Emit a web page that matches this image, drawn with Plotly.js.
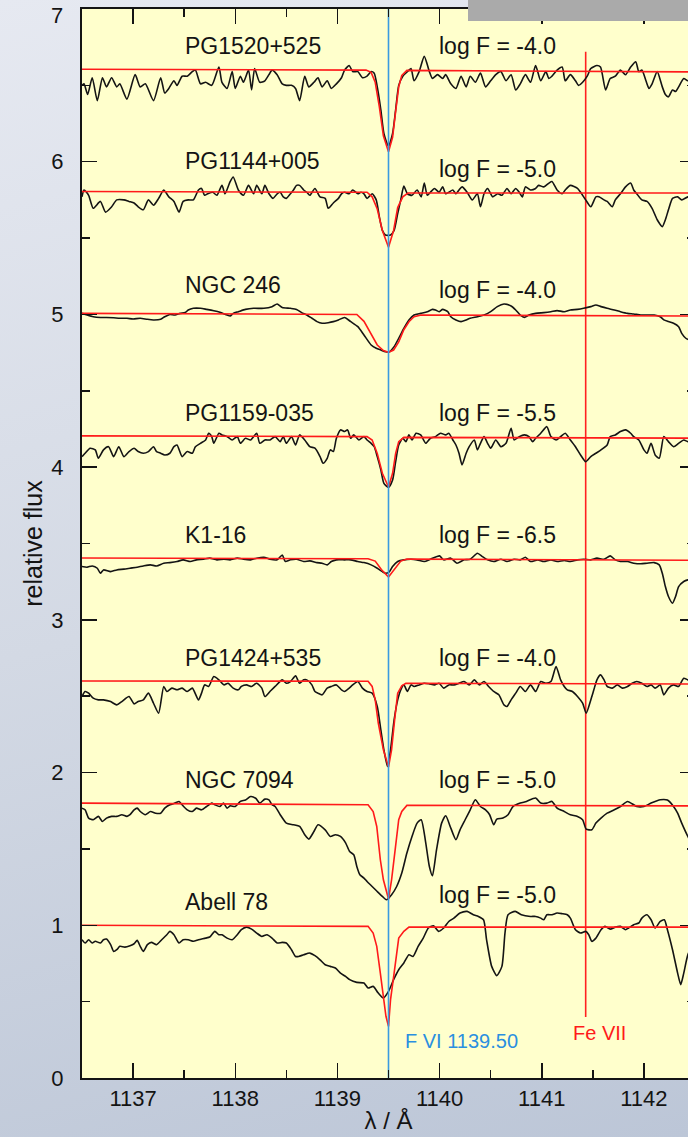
<!DOCTYPE html>
<html><head><meta charset="utf-8">
<script src="https://cdn.plot.ly/plotly-3.0.1.min.js"></script>
<style>
html,body{margin:0;padding:0;overflow:hidden;width:688px;height:1137px;}
body{position:relative;background:linear-gradient(165deg,#e6e9f1 0%,#d3d9e4 50%,#bcc6d7 100%);}
#chart{position:absolute;left:0;top:-20px;width:700px;height:1157px;}
</style></head><body><div id="chart"></div>
<script>
// ---------- observed spectra (wavelength in Å, relative flux incl. offset) ----------
const wlPG1520 = [1136.50,1136.52,1136.555,1136.60,1136.65,1136.70,1136.74,1136.79,1136.84,1136.87,1136.94,1137.02,1137.07,1137.12,1137.20,1137.27,1137.31,1137.35,1137.40,1137.43,1137.48,1137.53,1137.58,1137.61,1137.66,1137.71,1137.77,1137.84,1137.87,1137.92,1137.97,1138.00,1138.05,1138.08,1138.13,1138.16,1138.19,1138.24,1138.29,1138.33,1138.36,1138.41,1138.46,1138.50,1138.55,1138.59,1138.63,1138.68,1138.72,1138.77,1138.81,1138.85,1138.90,1138.94,1138.99,1139.04,1139.07,1139.115,1139.15,1139.20,1139.245,1139.29,1139.33,1139.36,1139.39,1139.425,1139.455,1139.50,1139.54,1139.57,1139.60,1139.64,1139.685,1139.72,1139.75,1139.80,1139.85,1139.90,1139.93,1139.98,1140.03,1140.06,1140.11,1140.16,1140.21,1140.26,1140.30,1140.35,1140.40,1140.45,1140.50,1140.55,1140.60,1140.65,1140.70,1140.745,1140.79,1140.84,1140.89,1140.94,1140.99,1141.04,1141.07,1141.10,1141.15,1141.20,1141.23,1141.28,1141.33,1141.36,1141.40,1141.445,1141.48,1141.54,1141.575,1141.625,1141.67,1141.72,1141.77,1141.82,1141.87,1141.92,1141.95,1141.98,1142.02,1142.05,1142.08,1142.13,1142.18,1142.21,1142.24,1142.28,1142.31,1142.34,1142.39,1142.43,1142.50];
const fxPG1520 = [6.50,6.51,6.44,6.55,6.40,6.55,6.49,6.55,6.49,6.51,6.41,6.57,6.49,6.51,6.40,6.55,6.45,6.48,6.53,6.50,6.56,6.56,6.59,6.60,6.51,6.52,6.50,6.62,6.52,6.48,6.59,6.48,6.56,6.52,6.60,6.47,6.61,6.52,6.53,6.57,6.60,6.57,6.51,6.50,6.50,6.48,6.40,6.56,6.49,6.52,6.55,6.49,6.53,6.48,6.51,6.55,6.60,6.63,6.59,6.59,6.55,6.56,6.59,6.58,6.49,6.34,6.185,6.10,6.185,6.34,6.50,6.56,6.59,6.61,6.53,6.59,6.69,6.59,6.545,6.57,6.545,6.57,6.51,6.48,6.56,6.49,6.56,6.52,6.58,6.49,6.53,6.57,6.59,6.53,6.57,6.47,6.51,6.57,6.52,6.63,6.53,6.59,6.545,6.56,6.60,6.62,6.53,6.57,6.53,6.50,6.52,6.56,6.61,6.63,6.62,6.47,6.545,6.56,6.60,6.57,6.62,6.655,6.59,6.60,6.53,6.48,6.51,6.59,6.49,6.44,6.425,6.47,6.46,6.49,6.545,6.53,6.55];

const wlPG1144 = [1136.50,1136.52,1136.565,1136.61,1136.68,1136.73,1136.79,1136.84,1136.91,1136.96,1137.01,1137.05,1137.10,1137.15,1137.20,1137.25,1137.30,1137.35,1137.40,1137.45,1137.49,1137.54,1137.59,1137.64,1137.67,1137.70,1137.73,1137.78,1137.82,1137.87,1137.90,1137.95,1137.98,1138.03,1138.08,1138.13,1138.18,1138.21,1138.26,1138.29,1138.33,1138.37,1138.41,1138.44,1138.47,1138.50,1138.54,1138.57,1138.60,1138.63,1138.67,1138.70,1138.73,1138.78,1138.83,1138.88,1138.91,1138.96,1139.01,1139.04,1139.07,1139.115,1139.15,1139.20,1139.23,1139.26,1139.29,1139.34,1139.38,1139.41,1139.44,1139.47,1139.52,1139.555,1139.59,1139.62,1139.65,1139.685,1139.73,1139.78,1139.82,1139.85,1139.88,1139.91,1139.95,1139.995,1140.03,1140.06,1140.09,1140.13,1140.16,1140.19,1140.22,1140.27,1140.32,1140.37,1140.40,1140.435,1140.47,1140.52,1140.57,1140.61,1140.66,1140.70,1140.745,1140.78,1140.81,1140.84,1140.89,1140.94,1140.97,1141.02,1141.07,1141.10,1141.15,1141.20,1141.23,1141.28,1141.35,1141.38,1141.43,1141.48,1141.53,1141.56,1141.61,1141.64,1141.69,1141.72,1141.77,1141.82,1141.87,1141.90,1141.93,1141.98,1142.03,1142.08,1142.13,1142.18,1142.21,1142.24,1142.28,1142.33,1142.37,1142.43,1142.50];
const fxPG1144 = [5.77,5.815,5.78,5.695,5.74,5.67,5.705,5.75,5.75,5.74,5.73,5.705,5.685,5.75,5.715,5.76,5.815,5.77,5.74,5.67,5.74,5.75,5.75,5.815,5.825,5.78,5.79,5.80,5.78,5.845,5.79,5.87,5.90,5.815,5.78,5.845,5.79,5.845,5.79,5.845,5.79,5.76,5.79,5.80,5.77,5.76,5.79,5.815,5.845,5.845,5.815,5.80,5.78,5.825,5.77,5.76,5.695,5.73,5.76,5.79,5.80,5.79,5.815,5.79,5.80,5.79,5.76,5.79,5.75,5.64,5.55,5.52,5.52,5.55,5.66,5.75,5.84,5.79,5.78,5.815,5.77,5.86,5.78,5.80,5.825,5.80,5.835,5.79,5.80,5.815,5.79,5.815,5.835,5.80,5.75,5.79,5.705,5.79,5.825,5.77,5.79,5.78,5.825,5.79,5.825,5.80,5.77,5.835,5.815,5.825,5.845,5.835,5.86,5.87,5.815,5.79,5.815,5.845,5.825,5.80,5.75,5.705,5.77,5.77,5.75,5.74,5.705,5.75,5.79,5.835,5.86,5.815,5.79,5.75,5.74,5.695,5.62,5.575,5.62,5.685,5.76,5.77,5.75,5.77,5.77];

const wlNGC246 = [1136.50,1136.55,1136.61,1136.68,1136.74,1136.81,1136.87,1136.94,1137.00,1137.07,1137.14,1137.20,1137.27,1137.31,1137.36,1137.41,1137.46,1137.51,1137.54,1137.59,1137.66,1137.72,1137.79,1137.85,1137.92,1137.95,1137.98,1138.03,1138.10,1138.18,1138.28,1138.36,1138.41,1138.46,1138.54,1138.60,1138.65,1138.70,1138.75,1138.80,1138.85,1138.91,1138.96,1139.01,1139.07,1139.13,1139.20,1139.26,1139.33,1139.38,1139.425,1139.47,1139.51,1139.555,1139.60,1139.65,1139.70,1139.75,1139.815,1139.88,1139.93,1139.96,1139.995,1140.03,1140.08,1140.11,1140.16,1140.21,1140.26,1140.30,1140.37,1140.435,1140.50,1140.565,1140.63,1140.70,1140.745,1140.79,1140.83,1140.875,1140.94,1141.02,1141.09,1141.15,1141.22,1141.28,1141.35,1141.41,1141.48,1141.53,1141.58,1141.64,1141.71,1141.77,1141.84,1141.90,1141.97,1142.03,1142.10,1142.16,1142.195,1142.24,1142.29,1142.34,1142.37,1142.41,1142.43,1142.50];
const fxNGC246 = [5.007,4.996,4.985,4.98,4.98,4.978,4.975,4.975,4.97,4.975,4.968,4.964,4.968,4.985,5.0,4.996,5.007,5.012,5.029,5.04,5.04,5.033,5.024,5.014,4.996,4.99,5.007,5.018,5.033,5.04,5.04,5.051,5.068,5.046,5.04,5.033,5.012,4.996,4.975,4.953,4.942,4.946,4.953,4.964,4.98,4.953,4.92,4.865,4.80,4.778,4.767,4.756,4.756,4.789,4.844,4.909,4.964,4.996,5.007,5.018,5.033,5.029,5.018,5.033,5.018,4.985,4.964,4.953,4.964,4.975,4.985,4.996,5.018,5.051,5.068,5.055,5.029,4.996,4.981,4.996,5.007,5.012,5.018,5.025,5.018,5.029,5.033,5.04,5.051,5.062,5.051,5.04,5.029,5.018,5.007,5.003,4.996,4.996,4.996,4.985,4.964,4.953,4.942,4.92,4.876,4.844,4.837,4.83];

const wlPG1159 = [1136.50,1136.53,1136.58,1136.63,1136.66,1136.71,1136.76,1136.81,1136.86,1136.91,1136.96,1137.01,1137.05,1137.10,1137.15,1137.20,1137.23,1137.27,1137.31,1137.36,1137.40,1137.43,1137.48,1137.53,1137.58,1137.61,1137.66,1137.71,1137.74,1137.77,1137.79,1137.84,1137.87,1137.92,1137.97,1138.02,1138.05,1138.10,1138.15,1138.21,1138.24,1138.29,1138.34,1138.39,1138.44,1138.47,1138.50,1138.55,1138.59,1138.63,1138.68,1138.73,1138.78,1138.83,1138.86,1138.90,1138.93,1138.96,1138.99,1139.03,1139.07,1139.10,1139.13,1139.16,1139.21,1139.26,1139.29,1139.33,1139.36,1139.39,1139.425,1139.455,1139.50,1139.54,1139.57,1139.60,1139.64,1139.67,1139.70,1139.73,1139.77,1139.815,1139.865,1139.91,1139.96,1140.01,1140.06,1140.09,1140.13,1140.16,1140.19,1140.22,1140.26,1140.29,1140.34,1140.37,1140.40,1140.435,1140.47,1140.50,1140.55,1140.60,1140.65,1140.70,1140.73,1140.78,1140.83,1140.875,1140.91,1140.94,1140.99,1141.05,1141.09,1141.14,1141.185,1141.23,1141.28,1141.33,1141.38,1141.43,1141.48,1141.53,1141.58,1141.64,1141.67,1141.72,1141.77,1141.82,1141.87,1141.90,1141.95,1142.00,1142.03,1142.07,1142.11,1142.15,1142.195,1142.24,1142.29,1142.34,1142.39,1142.43,1142.50];
const fxPG1159 = [4.069,4.091,4.124,4.113,4.058,4.113,4.134,4.069,4.134,4.069,4.102,4.124,4.102,4.091,4.102,4.134,4.102,4.091,4.080,4.091,4.134,4.145,4.069,4.102,4.091,4.134,4.156,4.178,4.222,4.20,4.156,4.222,4.211,4.20,4.178,4.20,4.156,4.189,4.178,4.222,4.156,4.178,4.178,4.20,4.167,4.20,4.156,4.20,4.145,4.211,4.178,4.134,4.124,4.069,4.025,4.058,4.113,4.102,4.189,4.244,4.233,4.244,4.189,4.211,4.178,4.20,4.178,4.156,4.134,4.069,3.982,3.894,3.868,3.916,4.036,4.145,4.189,4.167,4.211,4.178,4.222,4.211,4.156,4.189,4.20,4.222,4.211,4.222,4.178,4.145,4.091,4.015,4.091,4.134,4.178,4.113,4.156,4.20,4.156,4.124,4.178,4.134,4.156,4.255,4.178,4.20,4.211,4.20,4.167,4.189,4.222,4.265,4.20,4.178,4.20,4.222,4.178,4.134,4.080,4.036,4.069,4.091,4.113,4.145,4.20,4.211,4.233,4.244,4.222,4.20,4.178,4.113,4.091,4.156,4.080,4.058,4.20,4.167,4.134,4.156,4.178,4.167,4.17];

const wlK116 = [1136.50,1136.55,1136.60,1136.65,1136.68,1136.71,1136.78,1136.84,1136.91,1136.97,1137.04,1137.10,1137.17,1137.23,1137.30,1137.36,1137.43,1137.49,1137.56,1137.62,1137.69,1137.75,1137.82,1137.89,1137.95,1138.02,1138.08,1138.15,1138.21,1138.28,1138.34,1138.41,1138.46,1138.49,1138.54,1138.60,1138.67,1138.73,1138.80,1138.85,1138.90,1138.94,1138.99,1139.07,1139.13,1139.20,1139.26,1139.33,1139.39,1139.44,1139.47,1139.51,1139.54,1139.59,1139.65,1139.72,1139.78,1139.85,1139.91,1140.00,1140.04,1140.11,1140.17,1140.24,1140.30,1140.37,1140.42,1140.47,1140.53,1140.60,1140.66,1140.73,1140.79,1140.84,1140.89,1140.96,1141.02,1141.09,1141.15,1141.22,1141.28,1141.35,1141.41,1141.48,1141.54,1141.61,1141.67,1141.72,1141.77,1141.84,1141.90,1141.97,1142.03,1142.10,1142.15,1142.18,1142.21,1142.24,1142.28,1142.31,1142.34,1142.39,1142.43,1142.50];
const fxK116 = [3.349,3.345,3.353,3.338,3.305,3.327,3.316,3.327,3.332,3.338,3.345,3.353,3.36,3.353,3.371,3.375,3.382,3.393,3.382,3.393,3.397,3.404,3.393,3.397,3.393,3.404,3.397,3.393,3.404,3.41,3.397,3.393,3.425,3.382,3.393,3.397,3.382,3.386,3.375,3.371,3.36,3.382,3.393,3.393,3.393,3.382,3.375,3.36,3.338,3.316,3.305,3.316,3.349,3.382,3.393,3.397,3.393,3.382,3.397,3.419,3.393,3.404,3.371,3.393,3.397,3.436,3.414,3.393,3.382,3.397,3.382,3.397,3.393,3.41,3.382,3.393,3.382,3.393,3.382,3.389,3.382,3.393,3.397,3.393,3.404,3.397,3.419,3.393,3.382,3.382,3.371,3.367,3.371,3.375,3.36,3.305,3.218,3.153,3.109,3.153,3.218,3.251,3.262,3.27];

const wlPG1424 = [1136.50,1136.53,1136.565,1136.61,1136.66,1136.71,1136.78,1136.84,1136.89,1136.96,1137.01,1137.05,1137.10,1137.15,1137.20,1137.25,1137.30,1137.33,1137.38,1137.43,1137.48,1137.53,1137.58,1137.64,1137.67,1137.70,1137.74,1137.79,1137.84,1137.89,1137.93,1137.98,1138.03,1138.06,1138.11,1138.16,1138.21,1138.26,1138.29,1138.34,1138.39,1138.46,1138.50,1138.54,1138.59,1138.63,1138.67,1138.70,1138.75,1138.78,1138.81,1138.85,1138.90,1138.94,1138.99,1139.04,1139.07,1139.115,1139.15,1139.20,1139.245,1139.29,1139.34,1139.39,1139.425,1139.455,1139.49,1139.52,1139.555,1139.59,1139.62,1139.65,1139.685,1139.72,1139.75,1139.80,1139.85,1139.90,1139.95,1139.995,1140.04,1140.09,1140.14,1140.19,1140.24,1140.29,1140.34,1140.39,1140.435,1140.48,1140.53,1140.58,1140.63,1140.66,1140.70,1140.745,1140.79,1140.84,1140.89,1140.94,1140.99,1141.04,1141.09,1141.14,1141.185,1141.22,1141.25,1141.30,1141.35,1141.40,1141.435,1141.48,1141.51,1141.54,1141.575,1141.61,1141.64,1141.69,1141.74,1141.79,1141.84,1141.885,1141.93,1141.98,1142.03,1142.07,1142.11,1142.16,1142.195,1142.24,1142.29,1142.34,1142.39,1142.43,1142.50];
const fxPG1424 = [2.498,2.531,2.52,2.487,2.476,2.476,2.465,2.443,2.465,2.498,2.45,2.465,2.476,2.52,2.454,2.389,2.564,2.531,2.553,2.542,2.553,2.531,2.553,2.476,2.52,2.574,2.564,2.629,2.607,2.574,2.585,2.553,2.542,2.564,2.574,2.564,2.585,2.553,2.498,2.531,2.564,2.607,2.585,2.596,2.633,2.585,2.607,2.607,2.574,2.531,2.52,2.509,2.553,2.564,2.574,2.542,2.531,2.553,2.574,2.596,2.553,2.531,2.52,2.433,2.28,2.149,2.04,2.149,2.345,2.476,2.542,2.574,2.531,2.574,2.564,2.574,2.585,2.581,2.574,2.585,2.553,2.574,2.574,2.585,2.596,2.574,2.607,2.574,2.596,2.564,2.531,2.509,2.443,2.433,2.476,2.52,2.564,2.531,2.574,2.531,2.596,2.585,2.596,2.695,2.607,2.564,2.542,2.531,2.498,2.454,2.389,2.476,2.542,2.607,2.64,2.607,2.564,2.553,2.574,2.553,2.564,2.585,2.596,2.585,2.564,2.574,2.553,2.574,2.509,2.553,2.574,2.564,2.618,2.607,2.60];

const wlNGC7094 = [1136.50,1136.53,1136.565,1136.61,1136.66,1136.70,1136.74,1136.79,1136.84,1136.89,1136.94,1136.97,1137.01,1137.04,1137.07,1137.12,1137.17,1137.22,1137.27,1137.31,1137.36,1137.41,1137.45,1137.48,1137.53,1137.58,1137.62,1137.67,1137.72,1137.77,1137.80,1137.85,1137.885,1137.92,1137.95,1138.00,1138.05,1138.10,1138.15,1138.20,1138.24,1138.29,1138.33,1138.36,1138.39,1138.44,1138.50,1138.57,1138.63,1138.68,1138.72,1138.77,1138.81,1138.88,1138.93,1138.98,1139.03,1139.08,1139.12,1139.16,1139.19,1139.22,1139.26,1139.29,1139.34,1139.39,1139.44,1139.48,1139.53,1139.58,1139.63,1139.68,1139.73,1139.78,1139.82,1139.86,1139.90,1139.93,1139.97,1140.02,1140.06,1140.11,1140.16,1140.20,1140.25,1140.30,1140.35,1140.40,1140.45,1140.49,1140.53,1140.56,1140.62,1140.67,1140.72,1140.79,1140.85,1140.94,1140.99,1141.05,1141.10,1141.15,1141.22,1141.28,1141.35,1141.40,1141.435,1141.49,1141.53,1141.58,1141.64,1141.71,1141.77,1141.84,1141.93,1142.00,1142.07,1142.16,1142.23,1142.29,1142.33,1142.37,1142.43,1142.50];
const fxNGC7094 = [1.767,1.756,1.702,1.691,1.713,1.68,1.702,1.713,1.713,1.724,1.713,1.724,1.756,1.767,1.745,1.724,1.745,1.734,1.734,1.767,1.789,1.80,1.811,1.789,1.756,1.745,1.767,1.756,1.778,1.80,1.789,1.778,1.80,1.767,1.782,1.778,1.811,1.821,1.843,1.832,1.80,1.826,1.821,1.789,1.778,1.724,1.669,1.658,1.647,1.593,1.564,1.614,1.658,1.625,1.582,1.593,1.582,1.54,1.483,1.462,1.385,1.331,1.309,1.287,1.254,1.221,1.189,1.167,1.20,1.254,1.342,1.473,1.582,1.669,1.691,1.560,1.385,1.324,1.494,1.669,1.717,1.636,1.560,1.625,1.691,1.756,1.822,1.778,1.756,1.724,1.658,1.695,1.702,1.724,1.778,1.80,1.811,1.833,1.80,1.80,1.811,1.767,1.745,1.724,1.713,1.691,1.63,1.625,1.669,1.702,1.734,1.756,1.778,1.811,1.778,1.778,1.80,1.822,1.82,1.778,1.734,1.669,1.582,1.50];

const wlAbell78 = [1136.50,1136.53,1136.565,1136.60,1136.63,1136.68,1136.71,1136.74,1136.78,1136.81,1136.84,1136.87,1136.92,1136.97,1137.01,1137.04,1137.07,1137.10,1137.14,1137.18,1137.23,1137.28,1137.33,1137.36,1137.40,1137.45,1137.49,1137.54,1137.59,1137.64,1137.71,1137.75,1137.80,1137.84,1137.87,1137.92,1137.97,1138.02,1138.06,1138.11,1138.16,1138.21,1138.26,1138.31,1138.36,1138.41,1138.46,1138.50,1138.55,1138.59,1138.62,1138.67,1138.73,1138.78,1138.83,1138.88,1138.93,1138.98,1139.03,1139.08,1139.12,1139.19,1139.26,1139.30,1139.35,1139.40,1139.45,1139.50,1139.55,1139.60,1139.65,1139.70,1139.74,1139.79,1139.84,1139.89,1139.94,1139.99,1140.04,1140.09,1140.14,1140.20,1140.27,1140.33,1140.38,1140.43,1140.46,1140.51,1140.56,1140.61,1140.64,1140.67,1140.74,1140.80,1140.89,1140.94,1140.99,1141.02,1141.05,1141.10,1141.15,1141.20,1141.25,1141.28,1141.33,1141.38,1141.43,1141.46,1141.49,1141.53,1141.58,1141.62,1141.67,1141.72,1141.77,1141.82,1141.85,1141.90,1141.95,1141.98,1142.03,1142.07,1142.11,1142.16,1142.20,1142.23,1142.28,1142.33,1142.36,1142.39,1142.43,1142.50];
const fxAbell78 = [0.905,0.884,0.905,0.884,0.895,0.884,0.905,0.91,0.873,0.829,0.84,0.862,0.857,0.866,0.879,0.901,0.862,0.829,0.873,0.888,0.873,0.905,0.938,0.96,0.938,0.884,0.905,0.905,0.895,0.905,0.916,0.923,0.96,0.938,0.938,0.916,0.905,0.938,0.971,0.988,0.975,0.949,0.927,0.938,0.916,0.884,0.888,0.884,0.84,0.796,0.796,0.807,0.818,0.801,0.774,0.742,0.731,0.72,0.687,0.665,0.644,0.626,0.622,0.589,0.60,0.556,0.524,0.567,0.644,0.709,0.753,0.807,0.796,0.862,0.916,0.982,0.997,0.96,0.982,1.025,1.047,1.080,1.091,1.069,1.058,1.036,0.905,0.731,0.670,0.731,0.949,1.069,1.091,1.069,1.058,1.058,1.047,1.036,1.069,1.069,1.080,1.076,1.069,1.047,0.971,0.949,0.960,0.938,0.895,0.916,0.971,0.993,0.975,0.988,0.993,0.971,0.982,1.004,1.015,1.047,1.069,1.036,0.982,1.025,1.036,0.971,0.840,0.687,0.611,0.687,0.807,0.90];

// ---------- model spectra (red) ----------
const mwPG1520 = [1136.5,1139.28,1139.33,1139.37,1139.41,1139.45,1139.50,1139.54,1139.57,1139.60,1139.63,1139.68,1142.5];
const mfPG1520 = [6.605,6.60,6.585,6.52,6.36,6.17,6.065,6.16,6.33,6.49,6.565,6.598,6.588];
const mwPG1144 = [1136.5,1139.29,1139.34,1139.39,1139.44,1139.50,1139.55,1139.59,1139.64,1139.69,1142.5];
const mfPG1144 = [5.805,5.80,5.77,5.69,5.55,5.44,5.55,5.70,5.77,5.795,5.795];
const mwNGC246 = [1136.5,1139.19,1139.26,1139.33,1139.39,1139.45,1139.50,1139.55,1139.60,1139.65,1139.70,1139.75,1139.82,1142.5];
const mfNGC246 = [5.007,5.0,4.955,4.875,4.80,4.763,4.752,4.767,4.82,4.90,4.952,4.985,4.996,4.99];
const mwPG1159 = [1136.5,1139.29,1139.34,1139.39,1139.44,1139.50,1139.54,1139.57,1139.60,1139.65,1142.5];
const mfPG1159 = [4.205,4.20,4.178,4.09,3.96,3.87,3.96,4.09,4.167,4.195,4.19];
const mwK116 = [1136.5,1139.30,1139.37,1139.43,1139.50,1139.56,1139.62,1139.68,1142.5];
const mfK116 = [3.405,3.40,3.385,3.33,3.28,3.33,3.385,3.398,3.39];
const mwPG1424 = [1136.5,1139.30,1139.34,1139.37,1139.40,1139.45,1139.50,1139.53,1139.56,1139.59,1139.63,1139.67,1142.5];
const mfPG1424 = [2.60,2.598,2.564,2.476,2.324,2.149,2.036,2.149,2.345,2.52,2.568,2.585,2.58];
const mwNGC7094 = [1136.5,1139.30,1139.35,1139.385,1139.42,1139.45,1139.50,1139.53,1139.565,1139.60,1139.63,1139.68,1142.5];
const mfNGC7094 = [1.80,1.789,1.745,1.647,1.429,1.298,1.172,1.298,1.494,1.691,1.745,1.785,1.782];
const mwAbell78 = [1136.5,1139.30,1139.35,1139.385,1139.42,1139.45,1139.475,1139.50,1139.52,1139.555,1139.59,1139.60,1139.65,1139.70,1142.5];
const mfAbell78 = [1.0,0.993,0.949,0.862,0.687,0.513,0.404,0.338,0.513,0.687,0.862,0.916,0.96,0.988,0.988];

// ---------- labels ----------
const starNames = ["PG1520+525","PG1144+005","NGC 246","PG1159-035","K1-16","PG1424+535","NGC 7094","Abell 78"];
const starLabelY = [6.757,6.005,5.196,4.352,3.553,2.748,1.949,1.151];
const logFLabels = ["log F = -4.0","log F = -5.0","log F = -4.0","log F = -5.5","log F = -6.5","log F = -4.0","log F = -5.0","log F = -5.0"];
const logFLabelY = [6.757,5.955,5.16,4.355,3.556,2.751,1.953,1.199];
const starLabelX = 1137.49;
const logFLabelX = 1139.975;

// ---------- line identifications ----------
const fviWave = 1139.50, fviFlux = [0, 7];
const feviiWave = 1141.43, feviiFlux = [0.40, 6.72];
const fviLabel = "F VI 1139.50", fviLabelPos = [1139.64, 0.244];
const feviiLabel = "Fe VII", feviiLabelPos = [1141.565, 0.297];

// ---------- axis ticks ----------
const xTickVals = [1137,1138,1139,1140,1141,1142];
const yTickVals = [0,1,2,3,4,5,6,7];
const yTickText = ["0","1","2","3","4","5","6",""];   // top label "7" is placed just below the frame edge
const yTopLabel = "7", yTopLabelValue = 6.955;

const observed = [[wlPG1520,fxPG1520],[wlPG1144,fxPG1144],[wlNGC246,fxNGC246],[wlPG1159,fxPG1159],[wlK116,fxK116],[wlPG1424,fxPG1424],[wlNGC7094,fxNGC7094],[wlAbell78,fxAbell78]];
const models = [[mwPG1520,mfPG1520],[mwPG1144,mfPG1144],[mwNGC246,mfNGC246],[mwPG1159,mfPG1159],[mwK116,mfK116],[mwPG1424,mfPG1424],[mwNGC7094,mfNGC7094],[mwAbell78,mfAbell78]];

const FONT = "Liberation Sans, Arial, Helvetica, sans-serif";
const INK = "#141414";
const RED = "#ff1a1a";
const BLUE = "#3a9be0";

const traces = [];
traces.push({x:[feviiWave,feviiWave], y:feviiFlux, mode:"lines", line:{color:"#ff2020",width:1.6}, hoverinfo:"skip", showlegend:false});
observed.forEach((s,i)=>{
  traces.push({x:s[0], y:s[1], mode:"lines", name:starNames[i], line:{color:INK,width:1.6,shape:"spline",smoothing:0.6}, showlegend:false});
});
models.forEach((s,i)=>{
  traces.push({x:s[0], y:s[1], mode:"lines", name:starNames[i]+" model", line:{color:RED,width:1.6}, showlegend:false});
});
traces.push({x:[fviWave,fviWave], y:fviFlux, mode:"lines", line:{color:BLUE,width:1.6}, hoverinfo:"skip", showlegend:false});

const annotations = [];
starNames.forEach((n,i)=>annotations.push({x:starLabelX,y:starLabelY[i],xref:"x",yref:"y",text:n,showarrow:false,xanchor:"left",yanchor:"middle",font:{family:FONT,size:23,color:INK}}));
logFLabels.forEach((n,i)=>annotations.push({x:logFLabelX,y:logFLabelY[i],xref:"x",yref:"y",text:n,showarrow:false,xanchor:"left",yanchor:"middle",font:{family:FONT,size:23,color:INK}}));
annotations.push({x:fviLabelPos[0],y:fviLabelPos[1],xref:"x",yref:"y",text:fviLabel,showarrow:false,xanchor:"left",yanchor:"middle",font:{family:FONT,size:20,color:"#2a8fe0"}});
annotations.push({x:feviiLabelPos[0],y:feviiLabelPos[1],xref:"x",yref:"y",text:feviiLabel,showarrow:false,xanchor:"center",yanchor:"middle",font:{family:FONT,size:20,color:RED}});
annotations.push({x:0,y:yTopLabelValue,xref:"paper",yref:"y",text:yTopLabel,showarrow:false,xanchor:"right",yanchor:"middle",xshift:-17,font:{family:FONT,size:22,color:INK}});

const axisCommon = {
  showline:true, linewidth:2, linecolor:INK, mirror:"ticks",
  ticks:"inside", ticklen:15, tickwidth:1.5, tickcolor:INK,
  showgrid:false, zeroline:false,
  tickfont:{family:FONT,size:22,color:INK}
};

const layout = {
  width:700, height:1157,
  margin:{l:82,r:5,t:29,b:59},
  paper_bgcolor:"rgba(0,0,0,0)",
  plot_bgcolor:"#ffffcc",
  showlegend:false,
  xaxis:Object.assign({}, axisCommon, {
    range:[1136.5,1142.5], tickvals:xTickVals, ticklabelstandoff:0,
    minor:{ticks:"inside", ticklen:8, dtick:0.5, tick0:1136.5, tickwidth:1.5, tickcolor:INK, showgrid:false},
    title:{text:"λ / Å", font:{family:FONT,size:24,color:INK}, standoff:2}
  }),
  yaxis:Object.assign({}, axisCommon, {
    range:[0,7], tickvals:yTickVals, ticktext:yTickText, ticklabelstandoff:12,
    minor:{ticks:"inside", ticklen:8, dtick:0.5, tick0:0, tickwidth:1.5, tickcolor:INK, showgrid:false},
    title:{text:"relative flux", font:{family:FONT,size:25,color:INK}, standoff:2}
  }),
  annotations:annotations,
  shapes:[{type:"rect", xref:"paper", yref:"paper", x0:0.6297, x1:1.03, y0:0.9888, y1:1.0085, fillcolor:"#aaaaaa", line:{width:0}, layer:"above"}]
};

Plotly.newPlot("chart", traces, layout, {displayModeBar:false, staticPlot:true});
</script></body></html>
